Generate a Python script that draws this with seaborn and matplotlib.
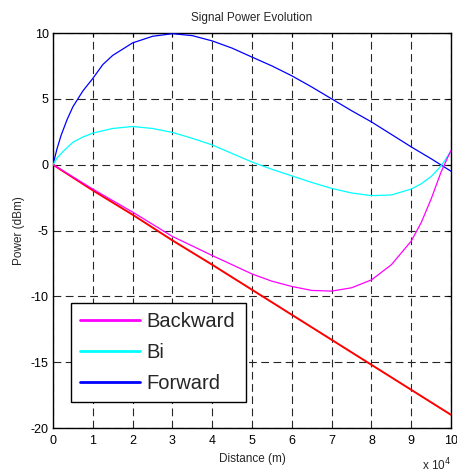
import matplotlib
matplotlib.use("Agg")
import matplotlib.pyplot as plt
import seaborn as sns
from matplotlib.lines import Line2D

# ---- data (distance in units of 1e4 m, power in dBm) ----
fwd_x = [0, 0.1, 0.2, 0.35, 0.5, 0.75, 1, 1.25, 1.5, 2, 2.5, 3, 3.5, 4, 4.5, 5,
         5.5, 6, 6.5, 7, 7.5, 8, 8.5, 9, 9.5, 10]
fwd_y = [0, 1.2, 2.2, 3.4, 4.4, 5.6, 6.55, 7.6, 8.3, 9.25, 9.75, 9.95, 9.8, 9.4,
         8.85, 8.17, 7.5, 6.75, 5.9, 5.0, 4.1, 3.25, 2.3, 1.35, 0.45, -0.5]

bi_x = [0, 0.1, 0.25, 0.5, 0.75, 1, 1.5, 2, 2.5, 3, 3.5, 4, 4.5, 5, 5.5, 6, 6.5,
        7, 7.5, 8, 8.5, 9, 9.25, 9.5, 9.75, 10]
bi_y = [0, 0.5, 1.0, 1.7, 2.1, 2.4, 2.75, 2.9, 2.75, 2.45, 2.0, 1.5, 0.85, 0.2,
        -0.35, -0.85, -1.35, -1.8, -2.15, -2.35, -2.3, -1.85, -1.45, -0.9, -0.1, 1.05]

bwd_x = [0, 1, 2, 3, 4, 4.5, 5, 5.5, 6, 6.5, 7, 7.5, 8, 8.5, 9, 9.25, 9.5, 9.75, 10]
bwd_y = [0, -1.85, -3.6, -5.45, -6.9, -7.6, -8.3, -8.85, -9.25, -9.55, -9.6, -9.35,
         -8.75, -7.6, -5.8, -4.4, -2.6, -0.55, 1.1]

red_x = [0, 1, 2, 3, 4, 5, 6, 7, 8, 9, 10]
red_y = [0, -1.95, -3.8, -5.75, -7.6, -9.5, -11.4, -13.3, -15.2, -17.1, -19.0]

x_ticks = [0, 1, 2, 3, 4, 5, 6, 7, 8, 9, 10]
y_ticks = [-20, -15, -10, -5, 0, 5, 10]

sns.set_theme(style="white")
plt.rcParams['font.family'] = ['Liberation Sans', 'DejaVu Sans']

fig = plt.figure(figsize=(4.57, 4.75), dpi=100)
fig.patch.set_facecolor('white')
ax = fig.add_axes([0.116, 0.0989, 0.871, 0.8316])
ax.set_facecolor('white')

sns.lineplot(x=red_x, y=red_y, color='#ff0000', linewidth=1.4, ax=ax, zorder=3)
sns.lineplot(x=fwd_x, y=fwd_y, color='#0000ff', linewidth=0.9, ax=ax, zorder=4)
sns.lineplot(x=bi_x, y=bi_y, color='#00ffff', linewidth=0.9, ax=ax, zorder=4)
sns.lineplot(x=bwd_x, y=bwd_y, color='#ff00ff', linewidth=0.9, ax=ax, zorder=4)

ax.set_xlim(0, 10)
ax.set_ylim(-20, 10)
ax.set_xticks(x_ticks)
ax.set_yticks(y_ticks)
ax.set_xticklabels([str(t) for t in x_ticks])
ax.set_yticklabels([str(t) for t in y_ticks])
ax.tick_params(axis='both', direction='in', length=3, width=0.8, colors='black',
               labelsize=9, top=True, right=True, pad=3)
ax.tick_params(axis='x', pad=5)

ax.grid(True, color='0.15', linestyle=(0, (7, 4)), linewidth=0.8)
ax.set_axisbelow(True)
for s in ax.spines.values():
    s.set_visible(True)
    s.set_color('black')
    s.set_linewidth(1.0)

ax.set_title('Signal Power Evolution', fontsize=8.5, pad=9)
ax.set_xlabel('Distance (m)', fontsize=8.5, labelpad=4)
ax.set_ylabel('Power (dBm)', fontsize=8.5, labelpad=4)
ax.text(1.0, -0.108, r'x 10$^{4}$', transform=ax.transAxes, ha='right',
        va='baseline', fontsize=8.5)

handles = [Line2D([], [], color='#ff00ff', linewidth=2),
           Line2D([], [], color='#00ffff', linewidth=2),
           Line2D([], [], color='#0000ff', linewidth=2)]
leg = ax.legend(handles, ['Backward', 'Bi', 'Forward'], loc='upper left',
                bbox_to_anchor=(0.0445, 0.0, 0.4405, 0.317), mode='expand',
                borderaxespad=0, fontsize=14.5, handlelength=3.0, handletextpad=0.3,
                labelspacing=0.6, borderpad=0.45, fancybox=False, framealpha=1,
                edgecolor='black')
leg.get_frame().set_linewidth(1.0)
leg.set_zorder(5)

fig.savefig('out.png', dpi=100)
